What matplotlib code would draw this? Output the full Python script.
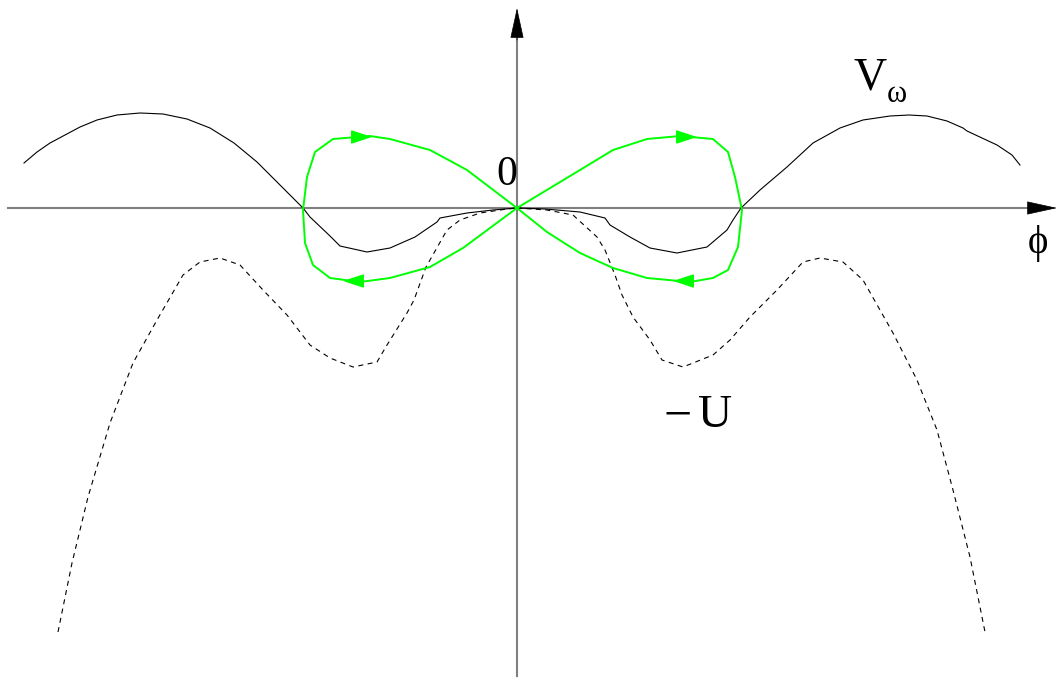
import matplotlib.pyplot as plt

plt.rcParams['font.family'] = 'serif'
plt.rcParams['font.serif'] = ['Liberation Serif', 'DejaVu Serif']

# schematic coordinates: phi to the right, value up, origin where the axes cross
v_left_phi = [-493, -480, -467, -437, -420, -400, -377, -354, -330, -307, -283, -260, -237, -214,
              -207, -187, -177, -150, -127, -102, -80, -77, -50, -24, 0]
v_left_val = [45, 56, 65, 81, 88, 93, 95, 94, 89, 80, 65, 46, 23, 0,
              -9, -28, -38, -44, -40, -29, -14, -10, -5, -2, 0]
v_right_phi = [0, 28, 63, 88, 93, 113, 133, 160, 190, 210, 216, 224, 243, 270,
               296, 323, 346, 373, 392, 410, 430, 446, 450, 480, 495, 503]
v_right_val = [0, -1, -4, -10, -17, -29, -40, -45, -39, -22, -12, 0, 18, 41,
               65, 80, 88, 92, 93, 92, 87, 80, 77, 63, 53, 43]

u_left_phi = [-459, -445, -429, -407, -384, -360, -334, -317, -297, -277, -254, -230,
              -207, -187, -164, -140, -130, -110, -103, -91, -70, -57, -37, -10, 0]
u_left_val = [-424, -355, -289, -215, -155, -112, -67, -54, -50, -57, -82, -107,
              -137, -150, -159, -154, -137, -105, -92, -59, -22, -12, -5, -1, 0]
u_right_phi = [0, 30, 56, 80, 88, 98, 105, 116, 133, 145, 166, 196, 213, 233, 260,
               286, 303, 326, 346, 376, 400, 420, 436, 453, 468]
u_right_val = [0, -2, -7, -29, -42, -67, -87, -109, -132, -152, -159, -147, -132, -109, -82,
               -54, -50, -54, -72, -125, -172, -222, -282, -349, -424]

# trajectory (figure eight through the origin)
traj_phi = [0, 63, 96, 130, 163, 196, 211, 218, 225, 221, 211, 196, 173, 130, 96, 63, 30, 0,
            -54, -87, -127, -157, -187, -204, -212, -214, -210, -202, -184, -147, -127, -87, -50, 0]
traj_val = [0, 38, 58, 69, 72, 69, 56, 31, -2, -39, -62, -70, -74, -70, -60, -45, -24, 0,
            -40, -59, -70, -74, -70, -57, -35, -2, 31, 56, 69, 72, 69, 58, 38, 0]
arrow_phi = [-145, 180, 156, -174]
arrow_val = [71, 71, -73, -73]
arrow_dir = [1, 1, -1, -1]

green = '#00ff00'
axis_gray = '#808080'

fig = plt.figure(figsize=(10.57, 6.78), dpi=100)
ax = fig.add_axes([0, 0, 1, 1])
ax.set_xlim(-517, 540)
ax.set_ylim(-470, 208)
ax.axis('off')

# axes with arrow heads
ax.plot([-509, 517], [0, 0], color=axis_gray, lw=1.5, zorder=1)
ax.plot([0, 0], [-468, 172], color=axis_gray, lw=1.5, zorder=1)
head = dict(arrowstyle='-|>,head_length=1.0,head_width=0.22', color='black',
            mutation_scale=20, shrinkA=0, shrinkB=0, lw=0.5)
ax.annotate('', xy=(540, 0), xytext=(514, 0), arrowprops=head)
ax.annotate('', xy=(0, 200), xytext=(0, 168), arrowprops=head)

ax.plot(v_left_phi, v_left_val, color='black', lw=0.8, zorder=2)
ax.plot(v_right_phi, v_right_val, color='black', lw=0.8, zorder=2)
ax.plot(u_left_phi, u_left_val, color='black', lw=0.8, ls=(0, (4.5, 4)), zorder=2)
ax.plot(u_right_phi, u_right_val, color='black', lw=0.8, ls=(0, (4.5, 4)), zorder=2)

ax.plot(traj_phi, traj_val, color=green, lw=1.4, zorder=3)
for x, y, d in zip(arrow_phi, arrow_val, arrow_dir):
    ax.annotate('', xy=(x, y), xytext=(x - d * 19, y),
                arrowprops=dict(arrowstyle='-|>,head_length=1.0,head_width=0.33',
                                color=green, mutation_scale=13, shrinkA=0, shrinkB=0, lw=1))

ax.text(-10, 33, '0', fontsize=30, ha='center', va='center')
ax.text(353, 130, 'V', fontsize=33, ha='center', va='center')
ax.text(380, 113, 'ω', fontsize=22, ha='center', va='center')
ax.text(521, -35, 'ϕ', fontsize=28, ha='center', va='center')
ax.text(161, -209, '−', fontsize=36, ha='center', va='center')
ax.text(198, -208, 'U', fontsize=34, ha='center', va='center')

plt.savefig('out.png', dpi=100)
